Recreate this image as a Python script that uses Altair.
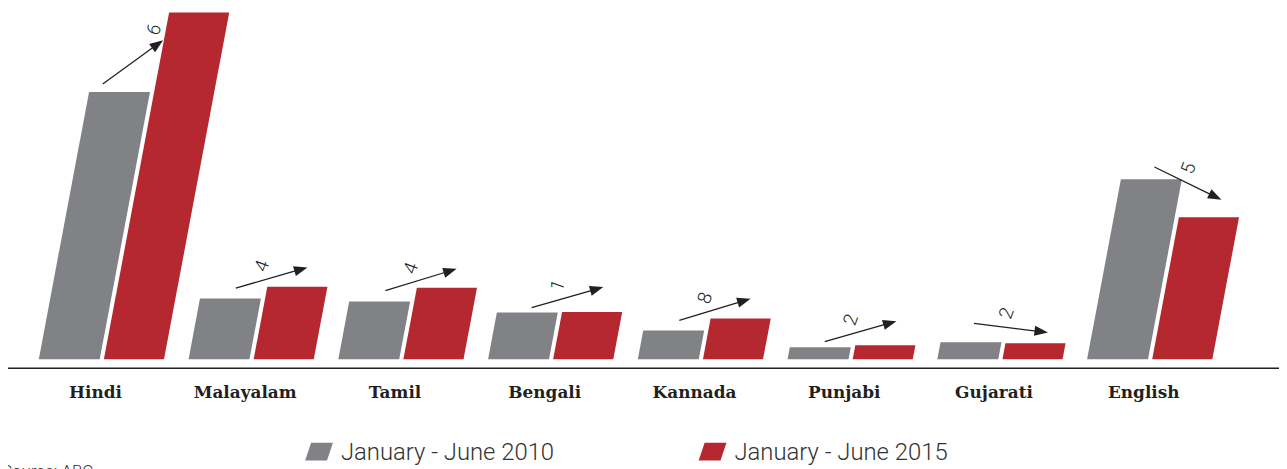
import altair as alt
import pandas as pd

# ---- data ----
languages = ["Hindi", "Malayalam", "Tamil", "Bengali", "Kannada", "Punjabi", "Gujarati", "English"]
series_names = ["January - June 2010", "January - June 2015"]
values_2010 = [26.9, 6.1, 5.8, 4.7, 2.9, 1.2, 1.7, 18.1]
values_2015 = [34.9, 7.3, 7.2, 4.75, 4.1, 1.4, 1.6, 14.3]
change_labels = ["6", "4", "4", "1", "8", "2", "2", "5"]
arrow_angles = [36, 16, 17, 16, 17, 16, -7, -26]
series_colors = ["#818286", "#B5282F"]
source_text = "Source: ABC"

# ---- tables built from the arrays ----
bars = pd.DataFrame([
    {"lang": lang, "idx": i, "sidx": s, "series": series_names[s],
     "value": vals[i], "end": e, "bar": f"{lang}|{s}"}
    for s, vals in enumerate([values_2010, values_2015])
    for i, lang in enumerate(languages)
    for e in (0, 1)
])
arrows = pd.DataFrame({
    "lang": languages, "idx": list(range(len(languages))),
    "v10": values_2010, "v15": values_2015,
    "angle": arrow_angles, "label": change_labels,
})
legend_df = pd.DataFrame({"series": series_names, "sidx": [0, 1]})
source_df = pd.DataFrame({"text": [source_text]})

W, H = 1279, 461
xs = alt.Scale(domain=[0, W], nice=False, zero=False)
ys = alt.Scale(domain=[-109, 352], nice=False, zero=False)
color = alt.Color("series:N", scale=alt.Scale(domain=series_names, range=series_colors), legend=None)

# slanted (parallelogram) bars
bar_layer = alt.Chart(bars).transform_calculate(
    h="datum.value * 10 * datum.end",
    base="31 + 150.7 * datum.idx + datum.sidx * 65.5",
    w="datum.sidx == 0 ? 61.3 : 60.5",
    xl="datum.base + 0.188 * datum.h",
    xr="datum.xl + datum.w",
).mark_area(orient="horizontal", opacity=1, interpolate="linear").encode(
    y=alt.Y("h:Q", scale=ys, axis=None),
    x=alt.X("xl:Q", scale=xs, axis=None, stack=None),
    x2="xr:Q",
    detail="bar:N",
    color=color,
)

arrow_base = alt.Chart(arrows).transform_calculate(
    h10="datum.v10 * 10",
    h15="datum.v15 * 10",
    x0="31 + 150.7 * datum.idx",
    avg="(datum.h10 + datum.h15) / 2",
    my0="datum.avg + 15",
    my="min(datum.my0, datum.h10 + 30)",
    rad="datum.angle * PI / 180",
    mx0="datum.x0 + 71 + 0.188 * datum.avg",
    mx="datum.mx0 + (datum.my - datum.my0) / tan(datum.rad)",
    tx="datum.mx - 37.5 * cos(datum.rad)",
    ty="datum.my - 37.5 * sin(datum.rad)",
    hx="datum.mx + 37.5 * cos(datum.rad)",
    hy="datum.my + 37.5 * sin(datum.rad)",
    lx="datum.hx - 10 * cos(datum.rad)",
    ly="datum.hy - 10 * sin(datum.rad)",
    px="datum.hx - 8.5 * cos(datum.rad)",
    py="datum.hy - 8.5 * sin(datum.rad)",
    hang="90 - datum.angle",
    lbx="datum.mx0 - 6 * cos(datum.rad) - 14 * sin(datum.rad)",
    lby="datum.my0 - 6 * sin(datum.rad) + 14 * cos(datum.rad)",
)

arrow_lines = arrow_base.mark_rule(color="#231f20", strokeWidth=1.3).encode(
    x=alt.X("tx:Q", scale=xs, axis=None), y=alt.Y("ty:Q", scale=ys, axis=None),
    x2="lx:Q", y2="ly:Q",
)
arrow_heads = arrow_base.mark_point(
    shape="M0,-1L0.6,0.6L-0.6,0.6Z", filled=True, size=289, opacity=1,
    color="#231f20", strokeWidth=0,
).encode(
    x=alt.X("px:Q", scale=xs, axis=None), y=alt.Y("py:Q", scale=ys, axis=None),
    angle=alt.Angle("hang:Q", scale=None),
)
arrow_labels = arrow_base.mark_text(
    font="Roboto", fontWeight=300, fontSize=19, color="#231f20",
    angle=290, align="center", baseline="middle",
).encode(
    x=alt.X("lbx:Q", scale=xs, axis=None), y=alt.Y("lby:Q", scale=ys, axis=None),
    text="label:N",
)

cat_labels = alt.Chart(arrows).transform_calculate(
    cx="31 + 150.7 * datum.idx + 57"
).mark_text(
    font="DejaVu Serif", fontWeight="bold", fontSize=17, color="#231f20",
    align="center", baseline="middle",
).encode(
    x=alt.X("cx:Q", scale=xs, axis=None), y=alt.value(386), text="lang:N",
)

axis_line = alt.Chart(source_df).mark_rule(color="#231f20", strokeWidth=1.5).encode(
    x=alt.value(0), x2=alt.value(W), y=alt.value(361),
)

legend_swatch = alt.Chart(legend_df).transform_calculate(
    lx="313 + 396 * datum.sidx"
).mark_point(
    shape="M-1,0.64L0.57,0.64L1,-0.64L-0.57,-0.64Z", filled=True, size=784,
    opacity=1, strokeWidth=0,
).encode(
    x=alt.X("lx:Q", scale=xs, axis=None), y=alt.value(445), color=color,
)
legend_text = alt.Chart(legend_df).transform_calculate(
    lx="335 + 396 * datum.sidx"
).mark_text(
    font="Roboto", fontWeight=300, fontSize=24, color="#333333",
    align="left", baseline="middle",
).encode(
    x=alt.X("lx:Q", scale=xs, axis=None), y=alt.value(446), text="series:N",
)

source = alt.Chart(source_df).mark_text(
    font="Roboto", fontWeight=300, fontSize=17, color="#333333",
    align="left", baseline="top",
).encode(x=alt.value(-6), y=alt.value(457), text="text:N")

chart = alt.layer(
    bar_layer, axis_line, arrow_lines, arrow_heads, arrow_labels,
    cat_labels, legend_swatch, legend_text, source,
).properties(
    width=W, height=H, padding=0, autosize=alt.AutoSizeParams(type="none"),
).configure_view(stroke=None)

chart.save("out.html", embed_options={"renderer": "svg", "actions": False})
